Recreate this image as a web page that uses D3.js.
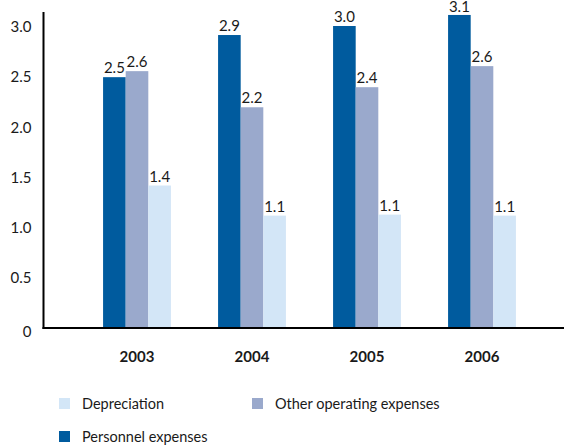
<!DOCTYPE html>
<html>
<head>
<meta charset="utf-8">
<script src="https://cdn.jsdelivr.net/npm/d3@7/dist/d3.min.js"></script>
<style>
  html, body { margin: 0; padding: 0; background: #fff; }
  svg { display: block; }
  text { font-family: Lato, "Open Sans", sans-serif; fill: #1a1a1a; }
</style>
</head>
<body>
<svg id="chart" width="564" height="445"></svg>
<script>
const years = ["2003", "2004", "2005", "2006"];
const personnel = [2.50, 2.92, 3.01, 3.12];
const otherOperating = [2.56, 2.20, 2.40, 2.61];
const depreciation = [1.42, 1.12, 1.13, 1.12];
const yTicks = [0, 0.5, 1.0, 1.5, 2.0, 2.5, 3.0];
const seriesNames = ["Personnel expenses", "Other operating expenses", "Depreciation"];
const seriesColors = ["#005b9e", "#9aa9cc", "#d3e6f7"];
const seriesValues = [personnel, otherOperating, depreciation];

const svg = d3.select("#chart");
const axisX = 43.5, baseY = 328;

const x0 = d3.scaleBand().domain(years).range([79.5, 539.5]).paddingInner(0.41).paddingOuter(0.205);
const x1 = d3.scaleBand().domain(seriesNames).range([0, x0.bandwidth()]);
const y = d3.scaleLinear().domain([0, 3]).range([baseY, 27]);
const color = d3.scaleOrdinal().domain(seriesNames).range(seriesColors);
const fmt = d3.format(".1f");

// Bars
const groups = svg.append("g").selectAll("g")
  .data(years).join("g")
  .attr("transform", d => `translate(${x0(d)},0)`);

groups.selectAll("rect")
  .data((yr, i) => seriesNames.map((s, k) => ({ s, v: seriesValues[k][i] })))
  .join("rect")
  .attr("x", d => x1(d.s))
  .attr("width", x1.bandwidth())
  .attr("y", d => y(d.v))
  .attr("height", d => baseY - y(d.v))
  .attr("fill", d => color(d.s));

groups.selectAll("text.val")
  .data((yr, i) => seriesNames.map((s, k) => ({ s, v: seriesValues[k][i] })))
  .join("text")
  .attr("class", "val")
  .attr("x", d => x1(d.s) + x1.bandwidth() / 2)
  .attr("y", d => Math.max(y(d.v) - 4, 12))
  .attr("text-anchor", "middle")
  .style("font-size", "15px")
  .text(d => fmt(d.v));

// Y axis
const yAxis = d3.axisLeft(y).tickValues(yTicks).tickSize(0).tickPadding(12)
  .tickFormat(d => d === 0 ? "0" : fmt(d));
const gy = svg.append("g").attr("transform", `translate(${axisX},0)`).call(yAxis);
gy.select(".domain").remove();
gy.selectAll("text").style("font-size", "15px").style("font-family", "Lato, sans-serif").attr("fill", "#1a1a1a");
gy.selectAll("text").filter(d => d === 0).attr("dy", "0.55em");

svg.append("line").attr("x1", axisX).attr("x2", axisX).attr("y1", 12).attr("y2", baseY + 1)
  .attr("stroke", "#000").attr("stroke-width", 2);
svg.append("line").attr("x1", axisX - 1).attr("x2", 564).attr("y1", baseY).attr("y2", baseY)
  .attr("stroke", "#000").attr("stroke-width", 2);

// X axis labels
const xAxis = d3.axisBottom(x0).tickSize(0).tickPadding(0);
const gx = svg.append("g").attr("transform", `translate(0,${baseY + 29})`).call(xAxis);
gx.select(".domain").remove();
gx.selectAll("text").attr("dy", "0.35em").style("font-size", "15px").style("font-weight", "bold")
  .style("font-family", "Lato, sans-serif").attr("fill", "#1a1a1a");

// Legend
const legendItems = [
  { name: "Depreciation", x: 59, y: 404 },
  { name: "Other operating expenses", x: 252, y: 404 },
  { name: "Personnel expenses", x: 59, y: 437 }
];
const lg = svg.append("g").selectAll("g").data(legendItems).join("g")
  .attr("transform", d => `translate(${d.x},${d.y})`);
lg.append("rect").attr("x", 0).attr("y", -6).attr("width", 11).attr("height", 11)
  .attr("fill", d => color(d.name));
lg.append("text").attr("x", 23).attr("y", 0).attr("dy", "0.35em")
  .style("font-size", "14.5px").text(d => d.name);
</script>
</body>
</html>
